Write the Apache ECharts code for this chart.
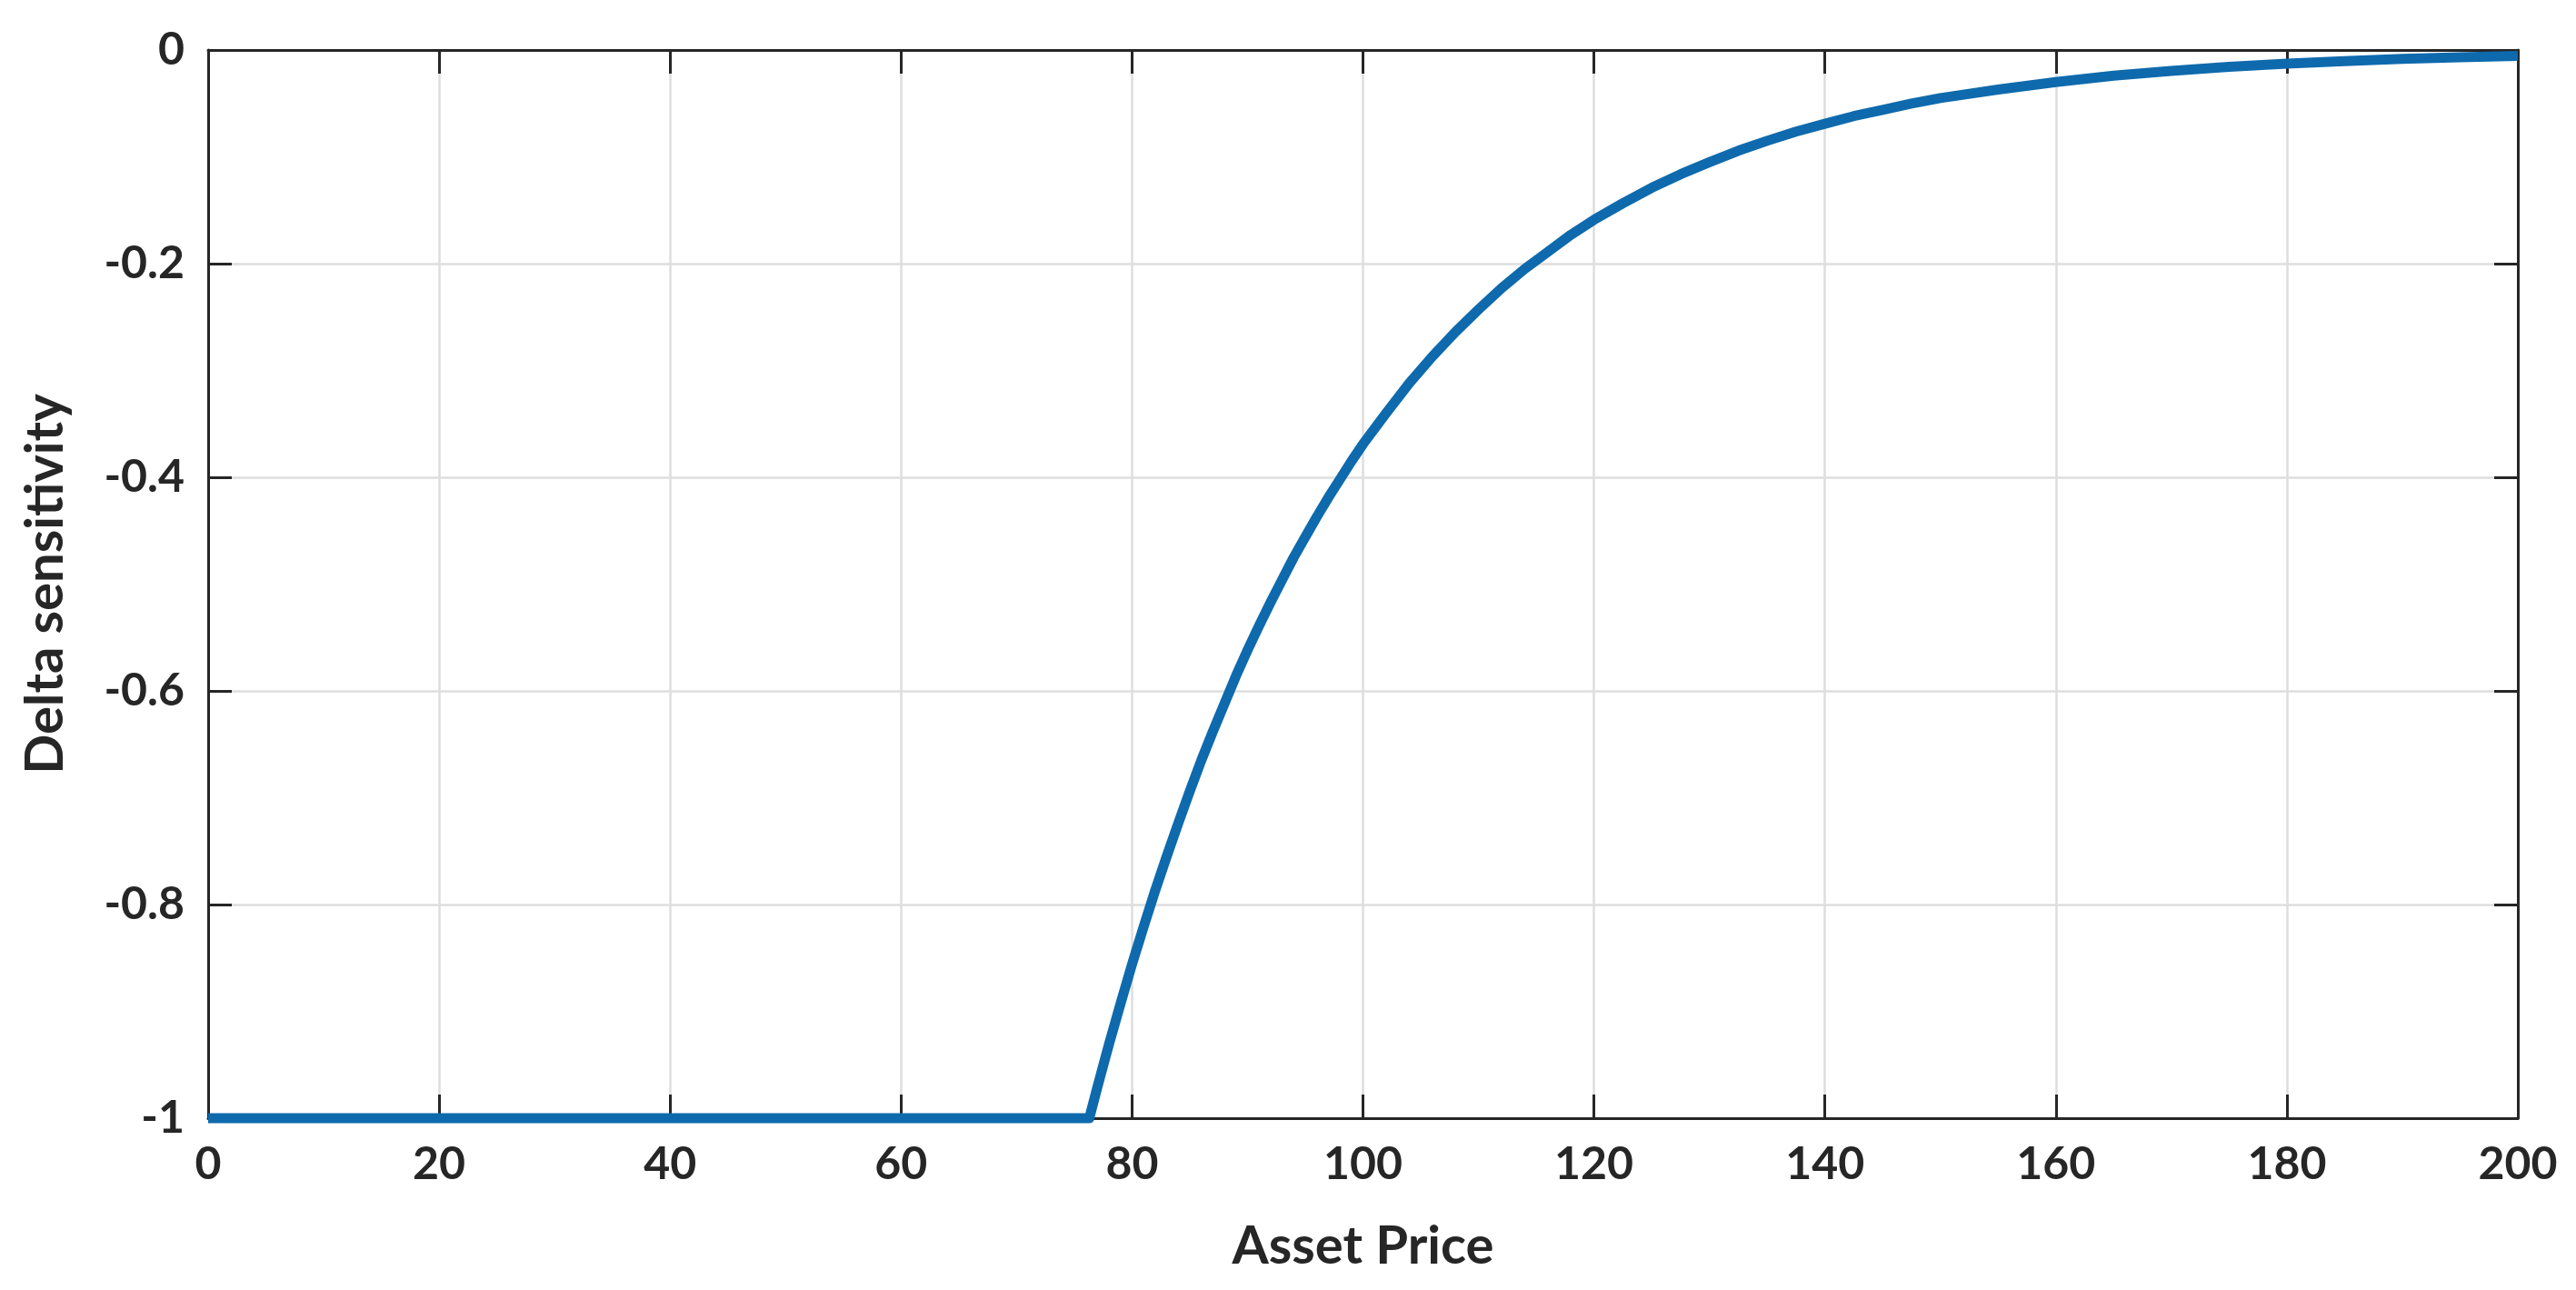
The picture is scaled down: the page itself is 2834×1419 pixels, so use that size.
<!DOCTYPE html>
<html>
<head>
<meta charset="utf-8">
<script src="https://cdn.jsdelivr.net/npm/echarts@6/dist/echarts.min.js"></script>
<style>
html,body{margin:0;padding:0;background:#fff;}
#chart{width:2834px;height:1419px;}
</style>
</head>
<body>
<div id="chart"></div>
<script>
// Data
const assetPrice = [0, 20, 40, 60, 76.3, 77, 78, 79, 80, 81, 82, 83, 84, 85, 86, 87, 88, 89, 90,
  91, 92, 93, 94, 95, 96, 97, 98, 99, 100, 102, 104, 106, 108, 110, 112, 114, 116, 118, 120,
  122.5, 125, 127.5, 130, 132.5, 135, 137.5, 140, 142.5, 145, 147.5, 150, 155, 160, 165, 170,
  175, 180, 185, 190, 195, 200];
const deltaSensitivity = [-1, -1, -1, -1, -1, -0.971, -0.931, -0.893, -0.856, -0.821, -0.787,
  -0.755, -0.724, -0.694, -0.665, -0.638, -0.612, -0.586, -0.562, -0.539, -0.517, -0.496,
  -0.475, -0.456, -0.437, -0.419, -0.402, -0.385, -0.369, -0.340, -0.312, -0.287, -0.264,
  -0.243, -0.223, -0.205, -0.189, -0.173, -0.159, -0.1435, -0.129, -0.1163, -0.105, -0.0943,
  -0.085, -0.0764, -0.069, -0.0619, -0.056, -0.0502, -0.045, -0.037, -0.030, -0.0241, -0.0195,
  -0.0158, -0.0128, -0.0104, -0.0084, -0.0068, -0.0055];
const xTicks = {min: 0, max: 200, interval: 20};
const yTicks = {min: -1, max: 0, interval: 0.2};
const xTitle = 'Asset Price';
const yTitle = 'Delta sensitivity';

const txt = '#262626';
const fontFamily = 'Lato, "Open Sans", sans-serif';
const chart = echarts.init(document.getElementById('chart'));
const axisLine = {show: true, onZero: false, lineStyle: {color: txt, width: 3}};
const axisTick = {show: true, inside: true, length: 26, lineStyle: {color: txt, width: 3}};
const splitLine = {show: true, lineStyle: {color: '#dedede', width: 2.5}};

chart.setOption({
  animation: false,
  backgroundColor: '#ffffff',
  grid: {left: 229, right: 64, top: 55, bottom: 189, containLabel: false},
  xAxis: [{
    type: 'value', min: xTicks.min, max: xTicks.max, interval: xTicks.interval,
    name: xTitle, nameLocation: 'middle', nameGap: 112,
    nameTextStyle: {fontFamily, fontSize: 58, fontWeight: 'bold', color: txt},
    axisLine, axisTick, splitLine,
    axisLabel: {fontFamily, fontSize: 50, fontWeight: 'bold', color: txt, margin: 26}
  }, {
    type: 'value', position: 'top', min: xTicks.min, max: xTicks.max, interval: xTicks.interval,
    axisLine, axisTick, splitLine: {show: false}, axisLabel: {show: false}
  }],
  yAxis: [{
    type: 'value', min: yTicks.min, max: yTicks.max, interval: yTicks.interval,
    name: yTitle, nameLocation: 'middle', nameGap: 150,
    nameTextStyle: {fontFamily, fontSize: 58, fontWeight: 'bold', color: txt},
    axisLine, axisTick, splitLine,
    axisLabel: {fontFamily, fontSize: 50, fontWeight: 'bold', color: txt, margin: 26}
  }, {
    type: 'value', position: 'right', min: yTicks.min, max: yTicks.max, interval: yTicks.interval,
    axisLine, axisTick, splitLine: {show: false}, axisLabel: {show: false}
  }],
  series: [{
    type: 'line',
    xAxisIndex: 0, yAxisIndex: 0,
    data: assetPrice.map((x, i) => [x, deltaSensitivity[i]]),
    showSymbol: false,
    smooth: false,
    lineStyle: {color: '#0e6aad', width: 11, join: 'round', cap: 'butt'},
    clip: false
  }]
});
</script>
</body>
</html>
